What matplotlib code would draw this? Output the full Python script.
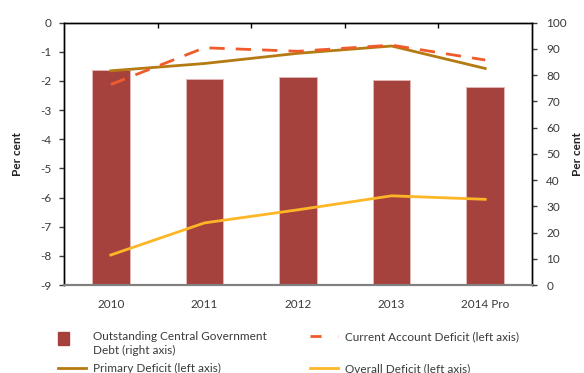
import matplotlib
matplotlib.use("Agg")
import matplotlib.pyplot as plt
from matplotlib.lines import Line2D
from matplotlib.patches import Rectangle
from matplotlib.legend_handler import HandlerPatch

plt.rcParams["font.family"] = ["Lato", "DejaVu Sans"]
plt.rcParams["axes.unicode_minus"] = False

# Data
years = ["2010", "2011", "2012", "2013", "2014 Pro"]
debt = [82.0, 78.5, 79.3, 78.3, 75.6]              # right axis
primary_deficit = [-1.65, -1.40, -1.05, -0.80, -1.57]
current_account = [-2.12, -0.86, -0.98, -0.77, -1.28]
overall_deficit = [-7.97, -6.87, -6.42, -5.94, -6.06]

c_debt = "#A6423E"
c_primary = "#B57A12"
c_current = "#F15A2B"
c_overall = "#FDB726"
txt = "#3a3a3a"

fig = plt.figure(figsize=(5.84, 3.73), dpi=100)
ax = fig.add_axes([64 / 584, 1 - 285 / 373, (532 - 64) / 584, (285 - 22.7) / 373])
ax2 = ax.twinx()

x = list(range(len(years)))

# bars on the right axis, lines on the left axis drawn above
ax2.bar(x, debt, width=0.4, color=c_debt, edgecolor="#e3b5b3", linewidth=0.7)
ax.set_zorder(ax2.get_zorder() + 1)
ax.patch.set_visible(False)

ax.plot(x, primary_deficit, color=c_primary, lw=2)
ax.plot(x, current_account, color=c_current, lw=2, dashes=(5.5, 4))
ax.plot(x, overall_deficit, color=c_overall, lw=2)

ax.set_xlim(-0.5, 4.5)
ax.set_ylim(-9, 0)
ax.set_yticks(range(-9, 1))
ax2.set_ylim(0, 100)
ax2.set_yticks(range(0, 101, 10))

ax.set_xticks(x)
ax.set_xticklabels(years)
ax.tick_params(axis="x", length=0, pad=10, labelsize=8.5, colors=txt)
ax.tick_params(axis="y", direction="out", length=3.3, width=1, pad=6, labelsize=8.5, colors=txt)
ax2.tick_params(axis="y", direction="out", length=3.3, width=1, pad=7, labelsize=8.5, colors=txt)

# small marks on the top spine between categories
top = ax.secondary_xaxis("top")
top.set_xticks([0.5, 1.5, 2.5, 3.5])
top.set_xticklabels([])
top.tick_params(direction="in", length=3.3, width=1)
top.spines["top"].set_visible(False)

for a in (ax, ax2):
    a.spines["bottom"].set_color("#808080")
    a.spines["bottom"].set_linewidth(1.5)
    a.spines["top"].set_linewidth(1)
    a.spines["left"].set_linewidth(1)
    a.spines["right"].set_linewidth(1)

ax.set_ylabel("Per cent", fontweight="bold", fontsize=8.5, color="#222222")
ax.yaxis.set_label_coords(-41 / 468, 0.5)
ax2.set_ylabel("Per cent", fontweight="bold", fontsize=8.5, color="#222222")
ax2.yaxis.set_label_coords(1 + 40 / 468, 0.5)


def square(legend, orig_handle, xdescent, ydescent, width, height, fontsize):
    side = height * 1.6
    return Rectangle((-xdescent, -ydescent + height - side * 0.8 + 4), side * 0.85, side)


def add_entry(handle, label, x0, y0, patch=False):
    kw = {}
    if patch:
        kw["handler_map"] = {Rectangle: HandlerPatch(patch_func=square)}
    leg = fig.legend([handle], [label], loc="upper left",
                     bbox_to_anchor=(x0 / 584, 1 - y0 / 373),
                     frameon=False, fontsize=8.5, borderpad=0, borderaxespad=0,
                     handlelength=2.4, handletextpad=0.6, **kw)
    for t in leg.get_texts():
        t.set_color(txt)
        t.set_linespacing(1.35)
    return leg


add_entry(Rectangle((0, 0), 1, 1, color=c_debt),
          "Outstanding Central Government\nDebt (right axis)", 58, 331, patch=True)
add_entry(Line2D([], [], color=c_primary, lw=2), "Primary Deficit (left axis)", 58, 363)
add_entry(Line2D([], [], color=c_current, lw=2, dashes=(4, 6)),
          "Current Account Deficit (left axis)", 310, 331)
add_entry(Line2D([], [], color=c_overall, lw=2), "Overall Deficit (left axis)", 310, 363)

fig.savefig("out.png", dpi=100)
